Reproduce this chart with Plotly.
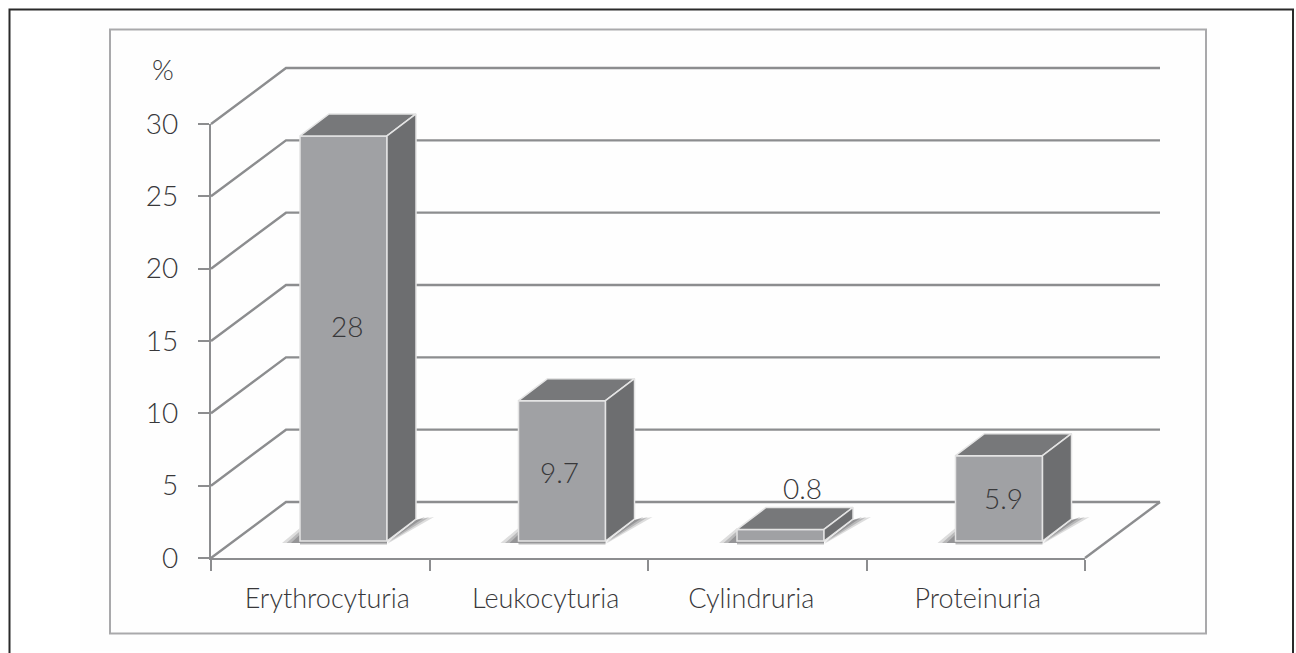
import plotly.graph_objects as go

categories = ["Erythrocyturia", "Leukocyturia", "Cylindruria", "Proteinuria"]
values = [28, 9.7, 0.8, 5.9]
value_labels = ["28", "9.7", "0.8", "5.9"]
y_ticks = [0, 5, 10, 15, 20, 25, 30]

W, H = 1296, 653
AX_L, AX_R, AX_T, AX_B = 211.0, 1085.0, 124.0, 558.0
PX_X = (AX_R - AX_L) / 4
PX_Y = (AX_B - AX_T) / 30
WALL_DX, WALL_DY = 75 / PX_X, 56 / PX_Y
BAR_OFF, BAR_W = 89 / PX_X, 87 / PX_X
BAR_BASE = 17 / PX_Y
BAR_DX, BAR_DY = 29 / PX_X, 22 / PX_Y
LABEL_SHIFT = [(3, 12), (-3, -1), (22, 5), (4, 0)]
CAT_SHIFT = [7, 7, -6, 2]

full_x = [-AX_L / PX_X, (W - AX_L) / PX_X]
full_y = [-(H - AX_B) / PX_Y, AX_B / PX_Y]
TEXT = "#38383a"
FONT = "Lato"

fig = go.Figure()

# real axes carrying the ticks and labels
fig.add_trace(go.Scatter(x=[0, 4], y=[0, 30], mode="markers", marker=dict(opacity=0),
                         hoverinfo="skip", showlegend=False))

# floor and wall lines
for v in y_ticks:
    fig.add_trace(go.Scatter(x=[0, WALL_DX, 4 + WALL_DX], y=[v, v + WALL_DY, v + WALL_DY],
                             mode="lines", line=dict(color="#8c8d8f", width=2.4),
                             xaxis="x2", yaxis="y2", hoverinfo="skip", showlegend=False))
fig.add_trace(go.Scatter(x=[4, 4 + WALL_DX], y=[0, WALL_DY], mode="lines",
                         line=dict(color="#8c8d8f", width=2.4),
                         xaxis="x2", yaxis="y2", hoverinfo="skip", showlegend=False))

# soft shadows at the foot of each bar
for i, v in enumerate(values):
    left = i + BAR_OFF
    right = left + BAR_W
    for s, a in [(1.0, 0.2), (0.75, 0.28), (0.5, 0.36)]:
        xs = [left - 18 / PX_X * s, left, left, None,
              right, right + BAR_DX, right + BAR_DX + 18 / PX_X * s, right, None,
              left, right, right, left]
        ys = [BAR_BASE - 2 / PX_Y, BAR_BASE + 13 / PX_Y * s, BAR_BASE - 2 / PX_Y, None,
              BAR_BASE - 3 / PX_Y * s, BAR_BASE + BAR_DY - 1 / PX_Y,
              BAR_BASE + BAR_DY + 2 / PX_Y, BAR_BASE - 3 / PX_Y * s, None,
              BAR_BASE, BAR_BASE, BAR_BASE - 4 / PX_Y * s, BAR_BASE - 4 / PX_Y * s]
        fig.add_trace(go.Scatter(x=xs, y=ys, mode="lines", fill="toself",
                                 fillcolor=f"rgba(90,90,92,{a})", line=dict(width=0),
                                 xaxis="x2", yaxis="y2", hoverinfo="skip", showlegend=False))

# front faces
fig.add_trace(go.Bar(x=[i + BAR_OFF + BAR_W / 2 for i in range(len(values))], y=values,
                     base=BAR_BASE, width=BAR_W, marker=dict(color="#a0a1a4",
                     line=dict(color="#e4e4e4", width=1.5)),
                     xaxis="x3", yaxis="y3", hoverinfo="skip", showlegend=False))

# top and side faces
for i, v in enumerate(values):
    left = i + BAR_OFF
    right = left + BAR_W
    top = BAR_BASE + v
    fig.add_trace(go.Scatter(
        x=[left, left + BAR_DX, right + BAR_DX, right, left],
        y=[top, top + BAR_DY, top + BAR_DY, top, top],
        mode="lines", fill="toself", fillcolor="#77787a", line=dict(color="#e4e4e4", width=1.5),
        xaxis="x3", yaxis="y3", hoverinfo="skip", showlegend=False))
    fig.add_trace(go.Scatter(
        x=[right, right + BAR_DX, right + BAR_DX, right, right],
        y=[BAR_BASE, BAR_BASE + BAR_DY, top + BAR_DY, top, BAR_BASE],
        mode="lines", fill="toself", fillcolor="#6d6e70", line=dict(color="#e4e4e4", width=1.5),
        xaxis="x3", yaxis="y3", hoverinfo="skip", showlegend=False))

annotations = []
for i, (v, lab) in enumerate(zip(values, value_labels)):
    y_pos = BAR_BASE + v / 2 if v > 2 else BAR_BASE + v + BAR_DY + 1.0
    annotations.append(dict(x=i + BAR_OFF + BAR_W / 2, y=y_pos, xref="x3", yref="y3", text=lab,
                            showarrow=False, xshift=LABEL_SHIFT[i][0], yshift=LABEL_SHIFT[i][1],
                            font=dict(family=FONT, size=28, color=TEXT, weight=300)))
annotations.append(dict(x=163 / W, y=1 - 69 / H, xref="paper", yref="paper", text="%",
                        xanchor="center", yanchor="middle", showarrow=False,
                        font=dict(family=FONT, size=28, color=TEXT, weight=300)))

shapes = [
    dict(type="rect", xref="paper", yref="paper", x0=80 / W, x1=1220 / W, y0=1 - 651 / H, y1=1 - 14 / H,
         fillcolor="#fefefe", line=dict(width=0), layer="below"),
    dict(type="rect", xref="paper", yref="paper", x0=9.5 / W, x1=1293 / W, y0=-0.02, y1=1 - 9.5 / H,
         line=dict(color="#2a2a2a", width=2), layer="below"),
    dict(type="rect", xref="paper", yref="paper", x0=110 / W, x1=1206 / W, y0=1 - 633.5 / H, y1=1 - 29.5 / H,
         line=dict(color="#a9a9ab", width=2), layer="below"),
]

hidden = dict(visible=False, automargin=False)
fig.update_layout(
    width=W, height=H, margin=dict(l=0, r=0, t=0, b=0),
    paper_bgcolor="white", plot_bgcolor="rgba(0,0,0,0)", showlegend=False,
    annotations=annotations, shapes=shapes, barmode="overlay",
    xaxis=dict(domain=[AX_L / W, AX_R / W], range=[0, 4], automargin=False,
               tickmode="array", tickvals=[i + 0.5 + CAT_SHIFT[i] / PX_X for i in range(4)], ticktext=categories,
               ticks="", showgrid=False, zeroline=False, showline=True, linecolor="#8c8d8f", linewidth=2.4,
               minor=dict(tickmode="array", tickvals=[0, 1, 2, 3, 4], ticks="outside", ticklen=11,
                          tickwidth=1.6, tickcolor="#8c8d8f", showgrid=False),
               tickfont=dict(family=FONT, size=27, color=TEXT, weight=300), ticklabelstandoff=15, anchor="y"),
    yaxis=dict(domain=[1 - AX_B / H, 1 - AX_T / H], range=[0, 30], automargin=False,
               tickmode="array", tickvals=y_ticks, ticks="outside", ticklen=11, tickwidth=1.6,
               tickcolor="#8c8d8f", showgrid=False, zeroline=False, showline=True,
               linecolor="#8c8d8f", linewidth=2.4,
               tickfont=dict(family=FONT, size=28, color=TEXT, weight=300), ticklabelstandoff=14, anchor="x"),
    xaxis2=dict(hidden, domain=[0, 1], range=full_x, anchor="y2"),
    yaxis2=dict(hidden, domain=[0, 1], range=full_y, anchor="x2"),
    xaxis3=dict(hidden, domain=[0, 1], range=full_x, overlaying="x2", anchor="y3"),
    yaxis3=dict(hidden, domain=[0, 1], range=full_y, overlaying="y2", anchor="x3"),
)

fig.write_html("out.html", post_script="document.body.style.margin='0';", config=dict(displayModeBar=False))
